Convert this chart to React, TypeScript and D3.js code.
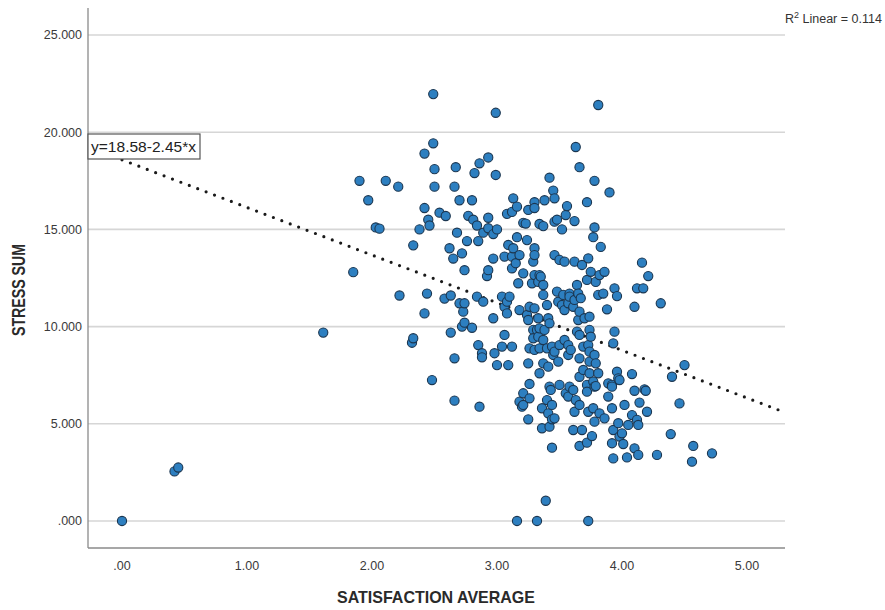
import React from 'react';
import * as d3 from 'd3';

// satisfaction average (x) and stress sum (y)
const satisfaction = [
  0.00, 0.42, 0.45, 1.61, 1.85, 1.90, 1.97, 2.03, 2.06, 2.11, 2.21, 2.22, 2.32, 2.33, 2.33, 2.38,
  2.42, 2.42, 2.42, 2.44, 2.45, 2.46, 2.48, 2.49, 2.49, 2.50, 2.50, 2.54, 2.58, 2.59, 2.62, 2.63,
  2.63, 2.65, 2.66, 2.66, 2.66, 2.67, 2.68, 2.70, 2.70, 2.72, 2.72, 2.73, 2.74, 2.74, 2.74, 2.76,
  2.77, 2.80, 2.80, 2.81, 2.82, 2.84, 2.84, 2.85, 2.85, 2.86, 2.86, 2.88, 2.88, 2.89, 2.89, 2.92,
  2.93, 2.93, 2.93, 2.93, 2.97, 2.97, 2.97, 2.98, 2.99, 2.99, 3.00, 3.00, 3.04, 3.04, 3.06, 3.06,
  3.06, 3.08, 3.08, 3.08, 3.09, 3.09, 3.10, 3.12, 3.12, 3.12, 3.12, 3.13, 3.13, 3.15, 3.16, 3.16,
  3.16, 3.17, 3.18, 3.18, 3.18, 3.20, 3.21, 3.21, 3.21, 3.21, 3.23, 3.24, 3.24, 3.25, 3.25, 3.25,
  3.25, 3.26, 3.26, 3.26, 3.26, 3.28, 3.29, 3.29, 3.29, 3.30, 3.30, 3.30, 3.30, 3.30, 3.30, 3.30,
  3.32, 3.32, 3.33, 3.33, 3.33, 3.34, 3.34, 3.34, 3.34, 3.34, 3.35, 3.36, 3.36, 3.37, 3.37, 3.37,
  3.37, 3.37, 3.38, 3.38, 3.39, 3.40, 3.40, 3.40, 3.41, 3.41, 3.41, 3.42, 3.42, 3.42, 3.42, 3.43,
  3.44, 3.44, 3.44, 3.44, 3.45, 3.45, 3.46, 3.46, 3.46, 3.46, 3.46, 3.48, 3.48, 3.49, 3.49, 3.50,
  3.50, 3.50, 3.52, 3.52, 3.53, 3.54, 3.54, 3.54, 3.55, 3.55, 3.56, 3.57, 3.57, 3.57, 3.57, 3.58,
  3.58, 3.58, 3.59, 3.61, 3.61, 3.61, 3.62, 3.62, 3.62, 3.62, 3.63, 3.63, 3.64, 3.64, 3.65, 3.65,
  3.66, 3.66, 3.66, 3.66, 3.66, 3.66, 3.66, 3.67, 3.68, 3.68, 3.69, 3.69, 3.70, 3.72, 3.72, 3.72,
  3.72, 3.72, 3.73, 3.73, 3.73, 3.73, 3.74, 3.74, 3.74, 3.74, 3.74, 3.75, 3.75, 3.76, 3.77, 3.77,
  3.77, 3.78, 3.78, 3.78, 3.78, 3.78, 3.79, 3.79, 3.79, 3.81, 3.81, 3.81, 3.82, 3.82, 3.83, 3.85,
  3.86, 3.86, 3.88, 3.89, 3.89, 3.90, 3.92, 3.92, 3.92, 3.92, 3.93, 3.93, 3.93, 3.94, 3.94, 3.96,
  3.96, 3.97, 3.97, 3.98, 3.98, 4.00, 4.01, 4.02, 4.04, 4.05, 4.08, 4.08, 4.10, 4.10, 4.10, 4.12,
  4.12, 4.13, 4.13, 4.14, 4.16, 4.17, 4.18, 4.19, 4.20, 4.21, 4.28, 4.31, 4.39, 4.40, 4.46, 4.50,
  4.56, 4.57, 4.72,
];

const stress = [
  0.00, 2.55, 2.75, 9.69, 12.80, 17.50, 16.50, 15.10, 15.04, 17.50, 17.20, 11.60, 9.17, 9.40, 14.18, 15.00,
  18.90, 16.10, 10.68, 11.70, 15.50, 15.20, 7.25, 21.96, 19.43, 18.10, 17.20, 15.86, 11.44, 15.69, 14.03, 11.60,
  9.69, 13.50, 17.20, 8.37, 6.19, 18.20, 14.83, 16.50, 11.20, 13.77, 10.00, 10.77, 12.90, 11.20, 10.20, 14.40,
  15.70, 16.50, 9.94, 15.50, 17.90, 15.20, 11.54, 14.40, 9.05, 18.40, 5.88, 8.63, 8.42, 14.83, 11.28, 12.60,
  18.70, 15.60, 15.06, 12.90, 14.76, 13.50, 10.43, 8.63, 21.00, 17.80, 15.00, 8.02, 11.54, 8.97, 13.60, 11.02,
  9.57, 15.80, 11.28, 10.68, 14.20, 8.02, 11.54, 15.90, 13.60, 13.00, 8.97, 16.60, 14.03, 13.26, 16.17, 14.60,
  0.00, 12.23, 13.68, 10.85, 6.14, 5.88, 15.34, 12.74, 6.57, 5.97, 15.30, 14.45, 10.60, 16.00, 10.34, 8.11,
  5.23, 11.02, 8.88, 7.05, 6.31, 12.23, 13.34, 9.83, 9.40, 16.40, 16.10, 14.03, 13.68, 12.65, 10.94, 8.80,
  9.83, 0.00, 12.30, 10.43, 9.48, 15.28, 12.65, 9.91, 8.88, 7.60, 12.57, 5.80, 4.77, 15.17, 12.14, 11.63,
  9.31, 8.11, 16.50, 9.83, 1.04, 11.11, 8.88, 6.22, 10.43, 7.94, 5.54, 17.66, 10.17, 6.91, 4.85, 6.74,
  8.97, 5.97, 5.23, 3.77, 17.00, 8.54, 16.60, 15.40, 13.68, 8.71, 5.28, 15.50, 11.80, 11.28, 8.20, 13.43,
  9.05, 7.00, 15.00, 11.11, 11.63, 13.34, 10.85, 9.31, 15.74, 6.57, 16.20, 11.20, 9.05, 8.54, 6.40, 11.70,
  11.54, 6.91, 8.80, 11.02, 6.74, 4.68, 15.43, 13.34, 11.37, 5.62, 19.24, 6.22, 12.14, 9.74, 11.70, 10.34,
  18.20, 10.77, 9.57, 8.37, 7.42, 5.97, 3.86, 11.46, 13.17, 4.68, 8.97, 7.77, 10.43, 16.40, 12.40, 7.00,
  6.65, 4.03, 13.51, 9.05, 5.62, 0.00, 10.51, 9.83, 8.71, 8.20, 7.60, 12.82, 9.48, 4.37, 14.60, 7.17,
  5.80, 17.50, 15.10, 8.54, 6.91, 5.11, 12.30, 8.11, 6.94, 21.40, 11.63, 7.60, 12.65, 5.54, 14.10, 11.70,
  12.82, 5.28, 10.89, 7.08, 6.40, 16.90, 7.00, 6.91, 5.80, 4.00, 9.14, 4.68, 3.22, 11.97, 9.74, 11.57,
  7.68, 7.34, 5.03, 7.25, 4.34, 4.51, 3.96, 5.97, 3.27, 4.94, 7.56, 5.45, 11.02, 6.70, 3.74, 11.97,
  5.20, 4.94, 3.40, 6.09, 13.29, 11.97, 6.77, 6.70, 5.62, 12.60, 3.40, 11.20, 4.47, 7.42, 6.05, 8.02,
  3.05, 3.86, 3.48,
];

const xTicks = [0, 1, 2, 3, 4, 5];
const yTicks = [0, 5, 10, 15, 20, 25];

const intercept = 18.58;
const slope = -2.45;
const equationLabel = 'y=18.58-2.45*x';
const rSquared = '0.114';

const W = 885;
const H = 610;
const left = 88;
const right = 785;
const top = 8;
const bottom = 548;

const stripZero = (s: string) => s.replace(/^0\./, '.');

export default function App() {
  const x = d3.scaleLinear().domain([-0.272, 5.304]).range([left, right]);
  const y = d3.scaleLinear().domain([-1.39, 26.39]).range([bottom, top]);

  const points = satisfaction.map((s, i) => ({ s, v: stress[i] }));

  const fitLine = d3.line<number>()
    .x(d => x(d))
    .y(d => y(intercept + slope * d));
  const fitPath = fitLine([0, x.domain()[1]]) || '';

  const tickFont = '"Liberation Sans", Arial, sans-serif';
  const titleFont = '"Liberation Sans Narrow", "Arial Narrow", "Liberation Sans", sans-serif';

  return (
    <svg width={W} height={H} style={{ position: 'absolute', left: 0, top: 0, background: '#fff' }}>
      {/* horizontal gridlines */}
      {yTicks.map(t => (
        <line key={'g' + t} x1={left} x2={right} y1={y(t)} y2={y(t)} stroke="#d6d6d6" strokeWidth={1.6} />
      ))}

      {/* axes */}
      <line x1={left} x2={left} y1={top} y2={bottom} stroke="#8a8a8a" strokeWidth={1.3} />
      <line x1={left} x2={right} y1={bottom} y2={bottom} stroke="#8a8a8a" strokeWidth={1.3} />

      {yTicks.map(t => (
        <text key={'yt' + t} x={left - 6} y={y(t)} dy="0.35em" textAnchor="end"
          fontFamily={tickFont} fontSize={12.5} fill="#3a3a3a">
          {stripZero(d3.format('.3f')(t))}
        </text>
      ))}
      {xTicks.map(t => (
        <text key={'xt' + t} x={x(t)} y={bottom + 22} textAnchor="middle"
          fontFamily={tickFont} fontSize={12.5} fill="#3a3a3a">
          {stripZero(d3.format('.2f')(t))}
        </text>
      ))}

      {/* fit line */}
      <path d={fitPath} fill="none" stroke="#1a1a1a" strokeWidth={3.2}
        strokeDasharray="0 9" strokeLinecap="round" />

      {/* points */}
      {points.map((p, i) => (
        <circle key={i} cx={x(p.s)} cy={y(p.v)} r={4.6}
          fill="#2d7fc0" stroke="#1b3650" strokeWidth={1.1} />
      ))}

      {/* equation label */}
      <rect x={left} y={134} width={112} height={25} fill="#fff" stroke="#555" strokeWidth={1.2} />
      <text x={left + 3} y={152} fontFamily={tickFont} fontSize={14.5} fill="#222"
        textLength={105} lengthAdjust="spacingAndGlyphs">{equationLabel}</text>

      {/* R squared */}
      <text x={785} y={23} fontFamily={tickFont} fontSize={12.5} fill="#333">
        R<tspan dy={-5} fontSize={9}>2</tspan><tspan dy={5}> Linear = {rSquared}</tspan>
      </text>

      {/* axis titles */}
      <text x={436} y={603} textAnchor="middle" fontFamily={titleFont} fontWeight="bold"
        fontSize={17} fill="#2a2a2a" textLength={198} lengthAdjust="spacingAndGlyphs">
        SATISFACTION AVERAGE
      </text>
      <text transform={`translate(25, 290) rotate(-90)`} textAnchor="middle" fontFamily={titleFont}
        fontWeight="bold" fontSize={18} fill="#2a2a2a" textLength={92} lengthAdjust="spacingAndGlyphs">
        STRESS SUM
      </text>
    </svg>
  );
}
